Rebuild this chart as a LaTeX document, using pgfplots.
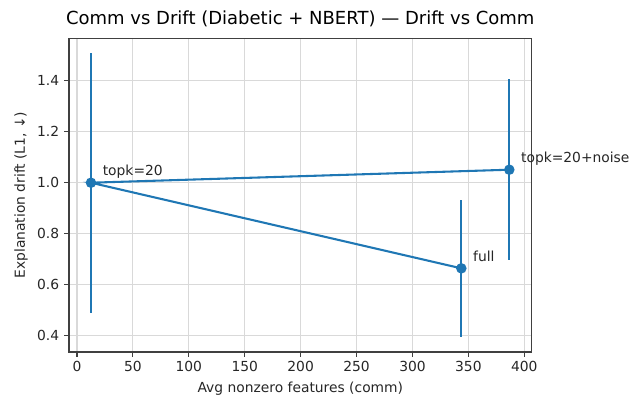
\documentclass[border=0pt]{standalone}
\usepackage{pgfplots}
\pgfplotsset{compat=1.18}
\usepackage{fontspec}
\setmainfont{DejaVu Sans}
\definecolor{mplblue}{HTML}{1F77B4}
\begin{document}
\begin{tikzpicture}
\useasboundingbox (0,0) rectangle (460.8pt,288pt);
\begin{axis}[
  at={(49.8pt,33.8pt)}, anchor=south west,
  width=334.2pt, height=226.6pt, scale only axis,
  xmin=-7.2, xmax=406.6, ymin=0.336, ymax=1.567,
  xtick={0,50,...,400}, ytick={0.4,0.6,...,1.4},
  yticklabel style={/pgf/number format/.cd, fixed, fixed zerofill, precision=1},
  /pgf/number format/assume math mode=true,
  tick align=outside, major tick length=3.5pt,
  xtick pos=bottom, ytick pos=left,
  tick style={black!75, line width=0.8pt},
  grid=major, grid style={gray!30, line width=0.8pt},
  axis line style={draw=none},
  ticklabel style={font=\fontsize{10}{12}\selectfont, text=black!85},
  label style={font=\fontsize{10}{12}\selectfont, text=black!85},
  xlabel={Avg nonzero features (comm)},
  ylabel={Explanation drift (L1, ↓)},
  title={Comm vs Drift (Diabetic + NBERT) — Drift vs Comm},
  title style={font=\fontsize{13}{15}\selectfont, yshift=-1pt},
  clip=false,
]
\addplot[mplblue, line width=1.5pt, mark=*, mark size=3pt,
  mark options={fill=mplblue, draw=mplblue},
  error bars/.cd, y dir=both, y explicit,
  error mark=none, error bar style={mplblue, line width=1.5pt}]
  coordinates {
    (343.7,0.664) +- (0,0.270)
    (12.5,1.000) +- (0,0.510)
    (386.6,1.051) +- (0,0.355)
  };
\draw[black!75, line width=0.8pt] (rel axis cs:0,0) rectangle (rel axis cs:1,1);
\node[anchor=base west, xshift=5pt, yshift=5pt, font=\fontsize{10}{12}\selectfont, text=black!85] at (axis cs:12.5,1.000) {topk=20};
\node[anchor=base west, xshift=5pt, yshift=5pt, font=\fontsize{10}{12}\selectfont, text=black!85] at (axis cs:343.7,0.664) {full};
\node[anchor=base west, xshift=5pt, yshift=5pt, font=\fontsize{10}{12}\selectfont, text=black!85] at (axis cs:386.6,1.051) {topk=20+noise};
\end{axis}
\end{tikzpicture}
\end{document}
